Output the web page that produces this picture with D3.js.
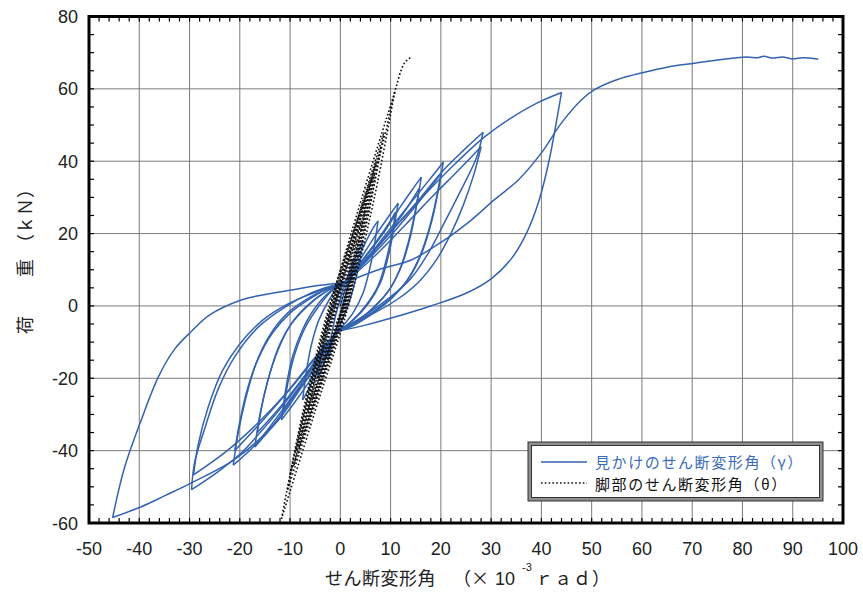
<!DOCTYPE html>
<html><head><meta charset="utf-8">
<script src="https://cdn.jsdelivr.net/npm/d3@7"></script>
<style>body{margin:0;background:#fff}svg{display:block}</style>
</head><body>
<svg id="c" width="863" height="592"></svg>
<script>
// ---- tick labels ----
const xTicks = [-50,-40,-30,-20,-10,0,10,20,30,40,50,60,70,80,90,100];
const yTicks = [-60,-40,-20,0,20,40,60,80];
const legendLabels = ["見かけのせん断変形角（γ）", "脚部のせん断変形角（θ）"];

// ---- apparent shear deformation angle γ : each cycle = [load+, unload+, load-, unload-] ----
const gamma1 = [
 [[0,0],[1,5],[2,10],[2.5,13]],
 [[2.5,13],[2,9],[1,3],[0,-2],[-0.5,-5]],
 [[-0.5,-5],[-1.5,-10],[-2.5,-15]],
 [[-2.5,-15],[-2,-10],[-1,-3],[0,2],[0.6,5]]];
const gamma2 = [
 [[0.6,5],[2,10],[3.5,15],[4.5,18]],
 [[4.5,18],[3.8,12],[2.8,6],[1.5,0],[0,-5],[-0.5,-6.5]],
 [[-0.5,-6.5],[-2,-11],[-3.5,-16.5],[-4.5,-20]],
 [[-4.5,-20],[-3.8,-13],[-2.8,-6],[-1.5,0],[0,4.5],[0.8,6.5]]];
const gamma3 = [
 [[0.8,6.5],[3,12],[5,17.5],[6.5,21.5],[7.5,23.5]],
 [[7.5,23.5],[6.8,17],[5.8,10],[4.5,3.5],[2.5,-2],[0.5,-5.5],[-0.5,-7]],
 [[-0.5,-7],[-2.5,-12.5],[-4.5,-18],[-6.3,-23],[-7.5,-26]],
 [[-7.5,-26],[-6.8,-18.5],[-5.8,-11],[-4.3,-4],[-2.3,1.5],[-0.3,5.5],[1,6.5]]];
const gamma4 = [
 [[1,6.5],[4,13],[7,19.5],[9.5,24.5],[11.5,28.4]],
 [[11.5,28.4],[10.6,21],[9.5,13.5],[8,6.5],[5.5,0.5],[2.5,-4],[-0.5,-7]],
 [[-0.5,-7],[-3,-13.5],[-6,-20.5],[-9,-26.5],[-11.7,-31.5]],
 [[-11.7,-31.5],[-10.8,-22.5],[-9.5,-14],[-7.5,-6.5],[-5,-0.5],[-2,4],[1,6.5]]];
const gamma5 = [
 [[1,6.5],[4,12],[7,17.5],[9.5,22.5],[11,26]],
 [[11,26],[10.2,19.5],[9,12],[7.5,5.5],[5,0],[2,-4.5],[-0.5,-7]],
 [[-0.5,-7],[-3.2,-13],[-6.2,-19.5],[-9,-24.5],[-11.3,-29]],
 [[-11.3,-29],[-10.4,-21],[-9,-13],[-7,-6],[-4.5,-0.5],[-1.8,4],[1,6.5]]];
const gamma6 = [
 [[1,6.5],[5,13.5],[9,21],[12,27.5],[14.5,32.5],[16.1,35.6]],
 [[16.1,35.6],[15.2,28],[14,19.5],[12.3,11.5],[10,5],[7,0],[3.5,-4],[-0.5,-7]],
 [[-0.5,-7],[-4,-14.5],[-8,-23],[-11.7,-30.5],[-14.5,-35],[-17,-39]],
 [[-17,-39],[-16,-30],[-14.5,-21],[-12.5,-12.5],[-10,-5.5],[-6.5,0],[-3,3.8],[1,6.5]]];
const gamma7 = [
 [[1,6.5],[5,12.5],[9,19],[12.5,25.5],[15.7,32.5]],
 [[15.7,32.5],[14.8,25.5],[13.5,17.5],[11.8,10],[9.5,4],[6.5,-0.5],[3,-4.5],[-0.5,-7]],
 [[-0.5,-7],[-4.3,-14],[-8.3,-21.5],[-12,-28],[-16.5,-35]],
 [[-16.5,-35],[-15.5,-27],[-14,-18.5],[-12,-10.5],[-9.3,-4],[-6,0.8],[-2.5,4.3],[1,6.5]]];
const gamma8 = [
 [[1,6.5],[5.5,13.5],[10,21.5],[14,28.5],[17.5,34.5],[20.5,39.8]],
 [[20.5,39.8],[19.5,32],[18.2,23.5],[16.3,15],[13.8,8],[10.5,2.5],[6.5,-2],[2.5,-5.5],[-0.5,-7]],
 [[-0.5,-7],[-4.5,-15],[-9,-24],[-13,-31.5],[-17,-38.5],[-21.3,-44]],
 [[-21.3,-44],[-20.3,-35],[-18.8,-25.5],[-16.8,-16],[-14,-8],[-10.5,-2],[-6.5,2],[-2.5,4.8],[1,6.5]]];
const gamma9 = [
 [[1,6.5],[6,13.5],[11,21],[15.5,28.5],[20,36.5]],
 [[20,36.5],[19,29],[17.6,21],[15.6,13],[13,6.5],[9.5,1.5],[5.5,-2.5],[2,-5.5],[-0.5,-7]],
 [[-0.5,-7],[-5,-14.5],[-10,-23],[-15,-31],[-21,-40]],
 [[-21,-40],[-20,-32],[-18.5,-23],[-16.3,-14.5],[-13.5,-7.5],[-10,-2],[-6,2],[-2.5,4.8],[1,6.5]]];
const gamma10 = [
 [[1,6.5],[6,14],[11,22],[16,30],[20.5,37.5],[24.5,43],[28.4,48]],
 [[28.4,48],[27.1,41],[24,32],[20.7,23],[17.5,14.6],[14,7.5],[10,2.5],[5,-2.5],[-0.5,-7]],
 [[-0.5,-7],[-5,-15.5],[-10,-25],[-15,-33.5],[-20,-41],[-24.5,-46],[-29.6,-50.8]],
 [[-29.6,-50.8],[-29,-43.4],[-27,-34],[-24.3,-23],[-21,-14],[-16.3,-5.8],[-11,-0.3],[-5.8,3.6],[-1.8,5.5],[1,6.5]]];
const gamma11 = [
 [[1,6.5],[7,14],[13,22.5],[18.5,30.5],[23.5,37.5],[28,44]],
 [[28,44],[26.6,36.5],[24.5,28],[22,20],[19,12.5],[15.5,6.5],[11,1.5],[6,-2.5],[2,-5.5],[-0.5,-7]],
 [[-0.5,-7],[-5.5,-15],[-11,-24.5],[-16.5,-32.5],[-22.5,-40],[-29.2,-46.7]],
 [[-29.2,-46.7],[-28.3,-38.5],[-26.3,-28],[-23.5,-18],[-20,-10.5],[-15.5,-4],[-10.5,0.5],[-5.5,3.5],[-1.5,5.5],[1,6.5]]];
const gamma12 = [
 [[1,6.5],[7,16],[13,25],[18,32.5],[23,39.5],[28.5,46.5],[34,52],[39,56],[44,59]],
 [[44,59],[43,51],[41.5,40],[39.5,29],[37,20],[34,13],[30,7.5],[25,3.5],[18,0],[11,-3],[5,-5.3],[-0.5,-7]],
 [[-0.5,-7],[-3.5,-11.5],[-7.2,-20.4],[-13.7,-33.4],[-21.1,-42.5],[-29.6,-48.9],[-35,-52.5],[-39.6,-55.5],[-45.3,-58.5]],
 [[-45.3,-58.5],[-43,-45],[-39.6,-31.5],[-36.2,-19.6],[-33,-12],[-29.6,-7],[-26,-2.5],[-20,1.5],[-16.3,2.8],[-9.7,4.4],[-4,5.7],[1,6.5]]];
const gammaFinal = [
 [[1,6.5],[8,10.2],[14.1,12.7],[20.7,18.2],[26.1,23.8],[30.6,29.3],[35.4,34.8],[40,42.3],[44,50.6],[48,57],[50.5,59.7],[55,62.5],[60.5,64.6],[65,66],[70.4,67.1],[75,68],[80.8,68.8],[83,68.6],[84.3,69],[86,68.5],[88,68.8],[90,68.3],[92,68.6],[95.1,68.2]]];
const gammaSeries = [gamma1,gamma2,gamma3,gamma4,gamma5,gamma6,gamma7,gamma8,gamma9,gamma10,gamma11,gamma12,gammaFinal];

// ---- foot shear deformation angle θ : branches (down = + peak to - peak, up = - peak to next + peak) ----
const theta1 = [
 [[0,0],[1.1,6.5],[2.2,13]],
 [[2.2,13],[1.3,6],[0.4,0],[-1.5,-7.5],[-3.3,-15]],
 [[-3.3,-15],[-2,-7],[-0.6,0],[1.6,11],[3.2,18]]];
const theta2 = [
 [[3.2,18],[1.9,9],[0.5,0],[-2,-10],[-4.5,-20]],
 [[-4.5,-20],[-2.7,-10],[-0.8,0],[2,14],[4.2,23.5]]];
const theta3 = [
 [[4.2,23.5],[2.5,12],[0.6,0],[-2.5,-13],[-5.6,-26]],
 [[-5.6,-26],[-3.4,-13],[-1,0],[2.3,17],[5.2,28.4]]];
const theta4 = [
 [[5.2,28.4],[3,14],[0.7,0],[-3,-15.5],[-6.8,-31.5]],
 [[-6.8,-31.5],[-4.1,-15.5],[-1.1,0],[1.8,13],[4.9,26]]];
const theta5 = [
 [[4.9,26],[2.9,13],[0.7,0],[-2.9,-14.5],[-6.5,-29]],
 [[-6.5,-29],[-4,-14.5],[-1.2,0],[2.4,17],[6.3,35.6]]];
const theta6 = [
 [[6.3,35.6],[3.8,18],[0.9,0],[-3.6,-19.5],[-8.2,-39]],
 [[-8.2,-39],[-5.1,-19.5],[-1.4,0],[2.2,16],[5.9,32.5]]];
const theta7 = [
 [[5.9,32.5],[3.5,16],[0.9,0],[-3.3,-17.5],[-7.6,-35]],
 [[-7.6,-35],[-4.7,-17.5],[-1.4,0],[2.8,20],[7.2,39.8]]];
const theta8 = [
 [[7.2,39.8],[4.4,20],[1.1,0],[-4,-22],[-9.2,-44]],
 [[-9.2,-44],[-5.8,-22],[-1.6,0],[2.5,18],[6.8,36.5]]];
const theta9 = [
 [[6.8,36.5],[4.1,18],[1.1,0],[-3.9,-20],[-8.8,-40]],
 [[-8.8,-40],[-5.5,-20],[-1.7,0],[3.4,24],[8.7,48]]];
const theta10 = [
 [[8.7,48],[5.4,24],[1.3,0],[-4.6,-25.5],[-10.5,-50.8]],
 [[-10.5,-50.8],[-6.6,-25.5],[-1.9,0],[3,22],[8.1,44]]];
const theta11 = [
 [[8.1,44],[5,22],[1.3,0],[-4.4,-23.5],[-10,-46.7]],
 [[-10,-46.7],[-6.3,-23.5],[-2,0],[4.2,29.5],[10.8,59]]];
const theta12 = [
 [[10.8,59],[6.7,29.5],[1.6,0],[-5,-29],[-11.7,-58.8]],
 [[-11.7,-58.8],[-7.4,-29],[-2.2,0],[3,22],[6.5,36],[8.8,46.7],[10.1,55],[11.1,60.5],[12.7,67],[14.1,68.8]]];
const thetaSeries = [theta1,theta2,theta3,theta4,theta5,theta6,theta7,theta8,theta9,theta10,theta11,theta12];

// ---- drawing ----
const svg = d3.select("#c");
const x = d3.scaleLinear().domain([-50,100]).range([89,843]);
const y = d3.scaleLinear().domain([-60,80]).range([523,16.5]);
const [x0,x1] = x.range(), [y0,y1] = y.range();
const numFont = "'Liberation Sans', Arial, sans-serif";
const jpFont = "'Noto Sans CJK JP', sans-serif";

// grid
svg.append("g").selectAll("line").data(xTicks.slice(1,-1)).join("line")
  .attr("x1",d=>x(d)).attr("x2",d=>x(d)).attr("y1",y1).attr("y2",y0)
  .attr("stroke","#7a7a7a").attr("stroke-width",1);
svg.append("g").selectAll("line").data(yTicks.slice(1,-1)).join("line")
  .attr("y1",d=>y(d)).attr("y2",d=>y(d)).attr("x1",x0).attr("x2",x1)
  .attr("stroke","#7a7a7a").attr("stroke-width",1);

const line = d3.line().x(d=>x(d[0])).y(d=>y(d[1])).curve(d3.curveCatmullRom.alpha(0.5));

// γ
svg.append("g").selectAll("path").data(gammaSeries.flat()).join("path")
  .attr("d",line).attr("fill","none").attr("stroke","#3363b0").attr("stroke-width",1.5);
// θ
svg.append("g").selectAll("path").data(thetaSeries.flat()).join("path")
  .attr("d",line).attr("fill","none").attr("stroke","#111").attr("stroke-width",1.6)
  .attr("stroke-dasharray","1.6,2.2");

// ticks (inward, all four sides)
const tk = svg.append("g").attr("stroke","#000").attr("stroke-width",1.2);
const xMinor = d3.range(-50,100.1,2), yMinor = d3.range(-60,80.1,5);
tk.selectAll(".xb").data(xMinor).join("line").attr("x1",d=>x(d)).attr("x2",d=>x(d)).attr("y1",y0).attr("y2",y0-5);
tk.selectAll(".xt").data(xMinor).join("line").attr("x1",d=>x(d)).attr("x2",d=>x(d)).attr("y1",y1).attr("y2",y1+5);
tk.selectAll(".yl").data(yMinor).join("line").attr("y1",d=>y(d)).attr("y2",d=>y(d)).attr("x1",x0).attr("x2",x0+5);
tk.selectAll(".yr").data(yMinor).join("line").attr("y1",d=>y(d)).attr("y2",d=>y(d)).attr("x1",x1).attr("x2",x1-5);

// frame
svg.append("rect").attr("x",x0).attr("y",y1).attr("width",x1-x0).attr("height",y0-y1)
  .attr("fill","none").attr("stroke","#000").attr("stroke-width",3);

// tick labels
svg.append("g").selectAll("text").data(xTicks).join("text")
  .attr("x",d=>x(d)).attr("y",555).attr("text-anchor","middle")
  .attr("font-family",numFont).attr("font-size",18).attr("fill","#222").text(d=>d);
svg.append("g").selectAll("text").data(yTicks).join("text")
  .attr("x",78).attr("y",d=>y(d)+6.5).attr("text-anchor","end")
  .attr("font-family",numFont).attr("font-size",18).attr("fill","#222").text(d=>d);

// axis titles
const xt = svg.append("g").attr("font-family",jpFont).attr("fill","#222");
xt.append("text").attr("x",325).attr("y",585).attr("font-size",18).attr("letter-spacing",0.5).text("せん断変形角");
xt.append("text").attr("x",453).attr("y",585).attr("font-size",18).text("（×");
xt.append("text").attr("x",495).attr("y",585).attr("font-size",18).attr("font-family",numFont).text("10");
xt.append("text").attr("x",522).attr("y",571).attr("font-size",11).attr("font-family",numFont).text("-3");
xt.append("text").attr("x",535).attr("y",585).attr("font-size",18).attr("letter-spacing",1).text("ｒａｄ）");

const yt = svg.append("g").attr("font-family",jpFont).attr("fill","#222").attr("font-size",18);
[["荷",325],["重",268],["（ｋＮ）",216]].forEach(([t,cy])=>{
  yt.append("text").attr("transform",`translate(24,${cy}) rotate(-90)`)
    .attr("text-anchor","middle").attr("dominant-baseline","central").text(t);
});

// legend
const lg = svg.append("g");
lg.append("rect").attr("x",528).attr("y",442).attr("width",295).attr("height",59)
  .attr("fill","#8f8f8f").attr("stroke","#333").attr("stroke-width",1);
lg.append("rect").attr("x",531.5).attr("y",445.5).attr("width",288).attr("height",52)
  .attr("fill","#fff").attr("stroke","#333").attr("stroke-width",1);
lg.append("line").attr("x1",541).attr("x2",587).attr("y1",462).attr("y2",462)
  .attr("stroke","#3363b0").attr("stroke-width",1.5);
lg.append("line").attr("x1",541).attr("x2",587).attr("y1",483).attr("y2",483)
  .attr("stroke","#111").attr("stroke-width",1.6).attr("stroke-dasharray","1.6,2.2");
lg.append("text").attr("x",595).attr("y",467.5).attr("font-family",jpFont).attr("font-size",15)
  .attr("letter-spacing",1.6).attr("fill","#3a6bb8").text(legendLabels[0]);
lg.append("text").attr("x",595).attr("y",489.5).attr("font-family",jpFont).attr("font-size",15)
  .attr("letter-spacing",1.6).attr("fill","#111").text(legendLabels[1]);
</script>
</body></html>
